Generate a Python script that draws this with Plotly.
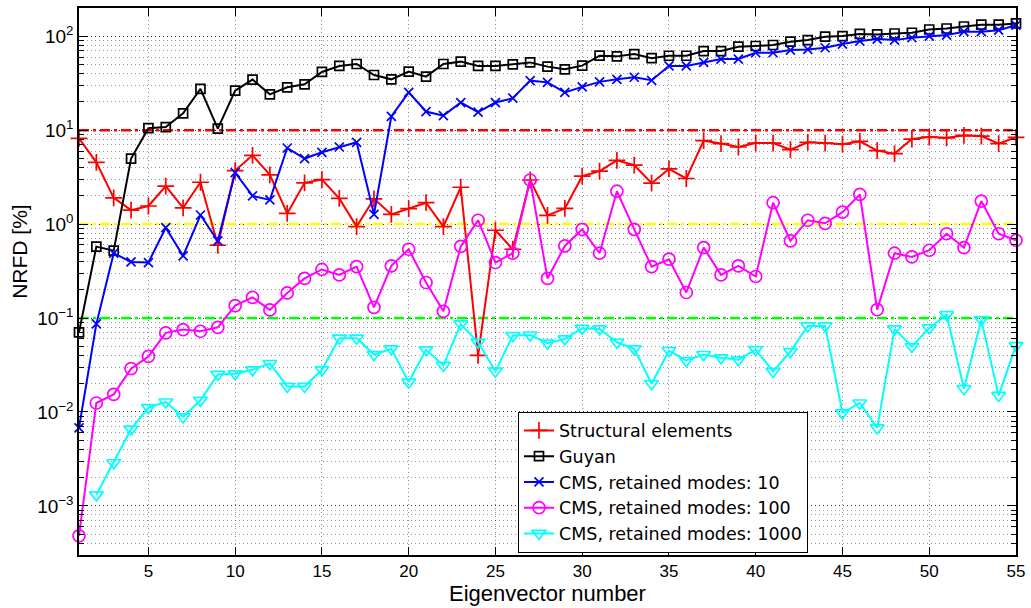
import plotly.graph_objects as go

# Eigenvector index
eig_no = list(range(1, 56))

# NRFD [%] per reduction method
structural = [8.2, 4.55, 1.9, 1.41, 1.56, 2.54, 1.49, 2.79, 0.596, 3.72,
              5.4, 3.35, 1.30, 2.75, 2.98, 1.88, 0.94, 1.86, 1.27, 1.46,
              1.69, 0.94, 2.47, 0.040, 0.86, 0.54, 2.95, 1.24, 1.47, 3.24,
              3.66, 4.78, 4.24, 2.73, 3.87, 3.06, 7.74, 7.2, 6.62, 7.3,
              7.3, 6.2, 7.43, 7.3, 7.1, 7.6, 6.06, 5.63, 8.05, 8.45,
              8.3, 8.8, 8.65, 7.2, 8.4]
guyan = [0.0705, 0.576, 0.522, 4.99, 10.5, 10.8, 15.1, 27.5, 10.4, 26.4,
         34.6, 24.1, 28.6, 30.8, 41.7, 48.3, 50.7, 38.7, 34.8, 42.1,
         37.2, 50.7, 53.7, 48.3, 48.3, 50.2, 52.7, 47.5, 44.5, 48.7,
         62.1, 61.1, 64.7, 58.5, 62.0, 62.0, 69.6, 69.6, 77.4, 78.8,
         80.7, 87.5, 91.2, 98.9, 100.5, 106, 104.6, 107, 109, 118,
         121, 127, 133, 133, 137]
cms_10 = [0.00676, 0.0866, 0.49, 0.396, 0.39, 0.916, 0.459, 1.25, 0.662, 3.54,
          2.0, 1.81, 6.46, 4.99, 5.82, 6.62, 7.43, 1.27, 14.0, 25.3,
          15.8, 14.3, 19.7, 15.6, 19.7, 21.9, 33.7, 32.3, 25.3, 28.9,
          32.7, 34.8, 36.6, 34.0, 48.3, 48.3, 52.7, 57.2, 57.2, 66.8,
          66.8, 71.3, 72.5, 75.5, 82.6, 89, 93.4, 91, 96.4, 100.5,
          103, 112, 112, 116, 131]
cms_100 = [4.8e-4, 0.01246, 0.0154, 0.0289, 0.039, 0.0695, 0.0753, 0.0723, 0.0797, 0.1355,
           0.166, 0.122, 0.185, 0.264, 0.329, 0.288, 0.353, 0.130, 0.36, 0.54,
           0.239, 0.118, 0.58, 1.10, 0.39, 0.49, 2.95, 0.264, 0.586, 0.88,
           0.49, 2.24, 0.88, 0.352, 0.423, 0.187, 0.562, 0.288, 0.36, 0.277,
           1.69, 0.662, 1.10, 1.02, 1.34, 2.07, 0.1228, 0.49, 0.448, 0.527,
           0.79, 0.562, 1.76, 0.79, 0.673]
cms_1000 = [None, 0.00131, 0.00288, 0.00656, 0.01114, 0.01277, 0.00885, 0.0133, 0.0251, 0.0255,
            0.0281, 0.0328, 0.0187, 0.0187, 0.0281, 0.061, 0.061, 0.0409, 0.047, 0.0208,
            0.0459, 0.0313, 0.0865, 0.0552, 0.0272, 0.065, 0.066, 0.054, 0.06, 0.0778,
            0.0766, 0.0552, 0.047, 0.020, 0.0451, 0.0353, 0.0409, 0.0377, 0.0359, 0.0462,
            0.027, 0.044, 0.0824, 0.0824, 0.0098, 0.01246, 0.00676, 0.0766, 0.0497, 0.0785,
            0.1087, 0.0177, 0.0962, 0.015, 0.0509]

# Threshold levels [%] and their colours
thresholds = [10, 1, 0.1]
threshold_colors = ["#FF0000", "#FFFF00", "#00FF00"]

# Decade ticks of the y axis
y_tick_vals = [1e-3, 1e-2, 1e-1, 1, 10, 100]
y_tick_text = ["10<sup>\u22123</sup>", "10<sup>\u22122</sup>", "10<sup>\u22121</sup>",
               "10<sup>0</sup>", "10<sup>1</sup>", "10<sup>2</sup>"]

series = [
    ("Structural elements", structural, "#FF0000", "cross-thin-open", 12),
    ("Guyan", guyan, "#000000", "square-open", 9),
    ("CMS, retained modes: 10", cms_10, "#0000FF", "x-thin-open", 9),
    ("CMS, retained modes: 100", cms_100, "#FF00FF", "circle-open", 12),
    ("CMS, retained modes: 1000", cms_1000, "#00FFFF", "triangle-down-open", 12),
]

FONT = "Liberation Sans, Arial, Helvetica, sans-serif"

fig = go.Figure()

for level, col in zip(thresholds, threshold_colors):
    fig.add_trace(go.Scatter(
        x=[eig_no[0], eig_no[-1]], y=[level, level], mode="lines",
        line=dict(color=col, width=2.5, dash="10px,4px,3px,4px"),
        showlegend=False, hoverinfo="skip"))

for name, vals, col, sym, size in series:
    fig.add_trace(go.Scatter(
        x=eig_no, y=vals, name=name, mode="lines+markers",
        line=dict(color=col, width=2),
        marker=dict(symbol=sym, size=size, color=col, line=dict(color=col, width=1.7)),
        cliponaxis=False))

fig.update_layout(
    width=1031, height=608,
    margin=dict(l=79, r=15, t=6, b=53),
    paper_bgcolor="white", plot_bgcolor="white",
    font=dict(family=FONT, color="black", size=17),
    legend=dict(
        x=0.4685, y=0.2623, xanchor="left", yanchor="top",
        bgcolor="white", bordercolor="black", borderwidth=1,
        font=dict(size=17.5, family="DejaVu Sans, " + FONT), tracegroupgap=0,
    ),
    annotations=[dict(
        text="NRFD [%]", textangle=-90, xref="paper", yref="paper",
        x=-0.063, y=0.556, xanchor="center", yanchor="middle",
        showarrow=False, font=dict(size=21, family=FONT, color="black"),
    )],
)

fig.update_xaxes(
    range=[1, 55], tickvals=list(range(5, 56, 5)),
    ticks="inside", ticklen=8, tickwidth=1, tickcolor="black",
    showline=True, linecolor="black", linewidth=1.5, mirror="allticks",
    showgrid=True, gridcolor="rgba(0,0,0,0.45)", gridwidth=1, griddash="1px,3px",
    zeroline=False,
    title=dict(text="Eigenvector number", font=dict(size=22), standoff=2),
    tickfont=dict(size=17),
)

fig.update_yaxes(
    type="log", range=[-3.5229, 2.30103],
    tickvals=y_tick_vals, ticktext=y_tick_text,
    ticks="inside", ticklen=9, tickwidth=1, tickcolor="black",
    showline=True, linecolor="black", linewidth=1.5, mirror="allticks",
    showgrid=True, gridcolor="rgba(0,0,0,0.65)", gridwidth=1, griddash="1px,3px",
    minor=dict(dtick="D1", ticks="inside", ticklen=5, tickcolor="black",
               showgrid=True, gridcolor="rgba(0,0,0,0.4)", griddash="1px,3px"),
    zeroline=False,
    tickfont=dict(size=19),
)

fig.write_html("out.html")
